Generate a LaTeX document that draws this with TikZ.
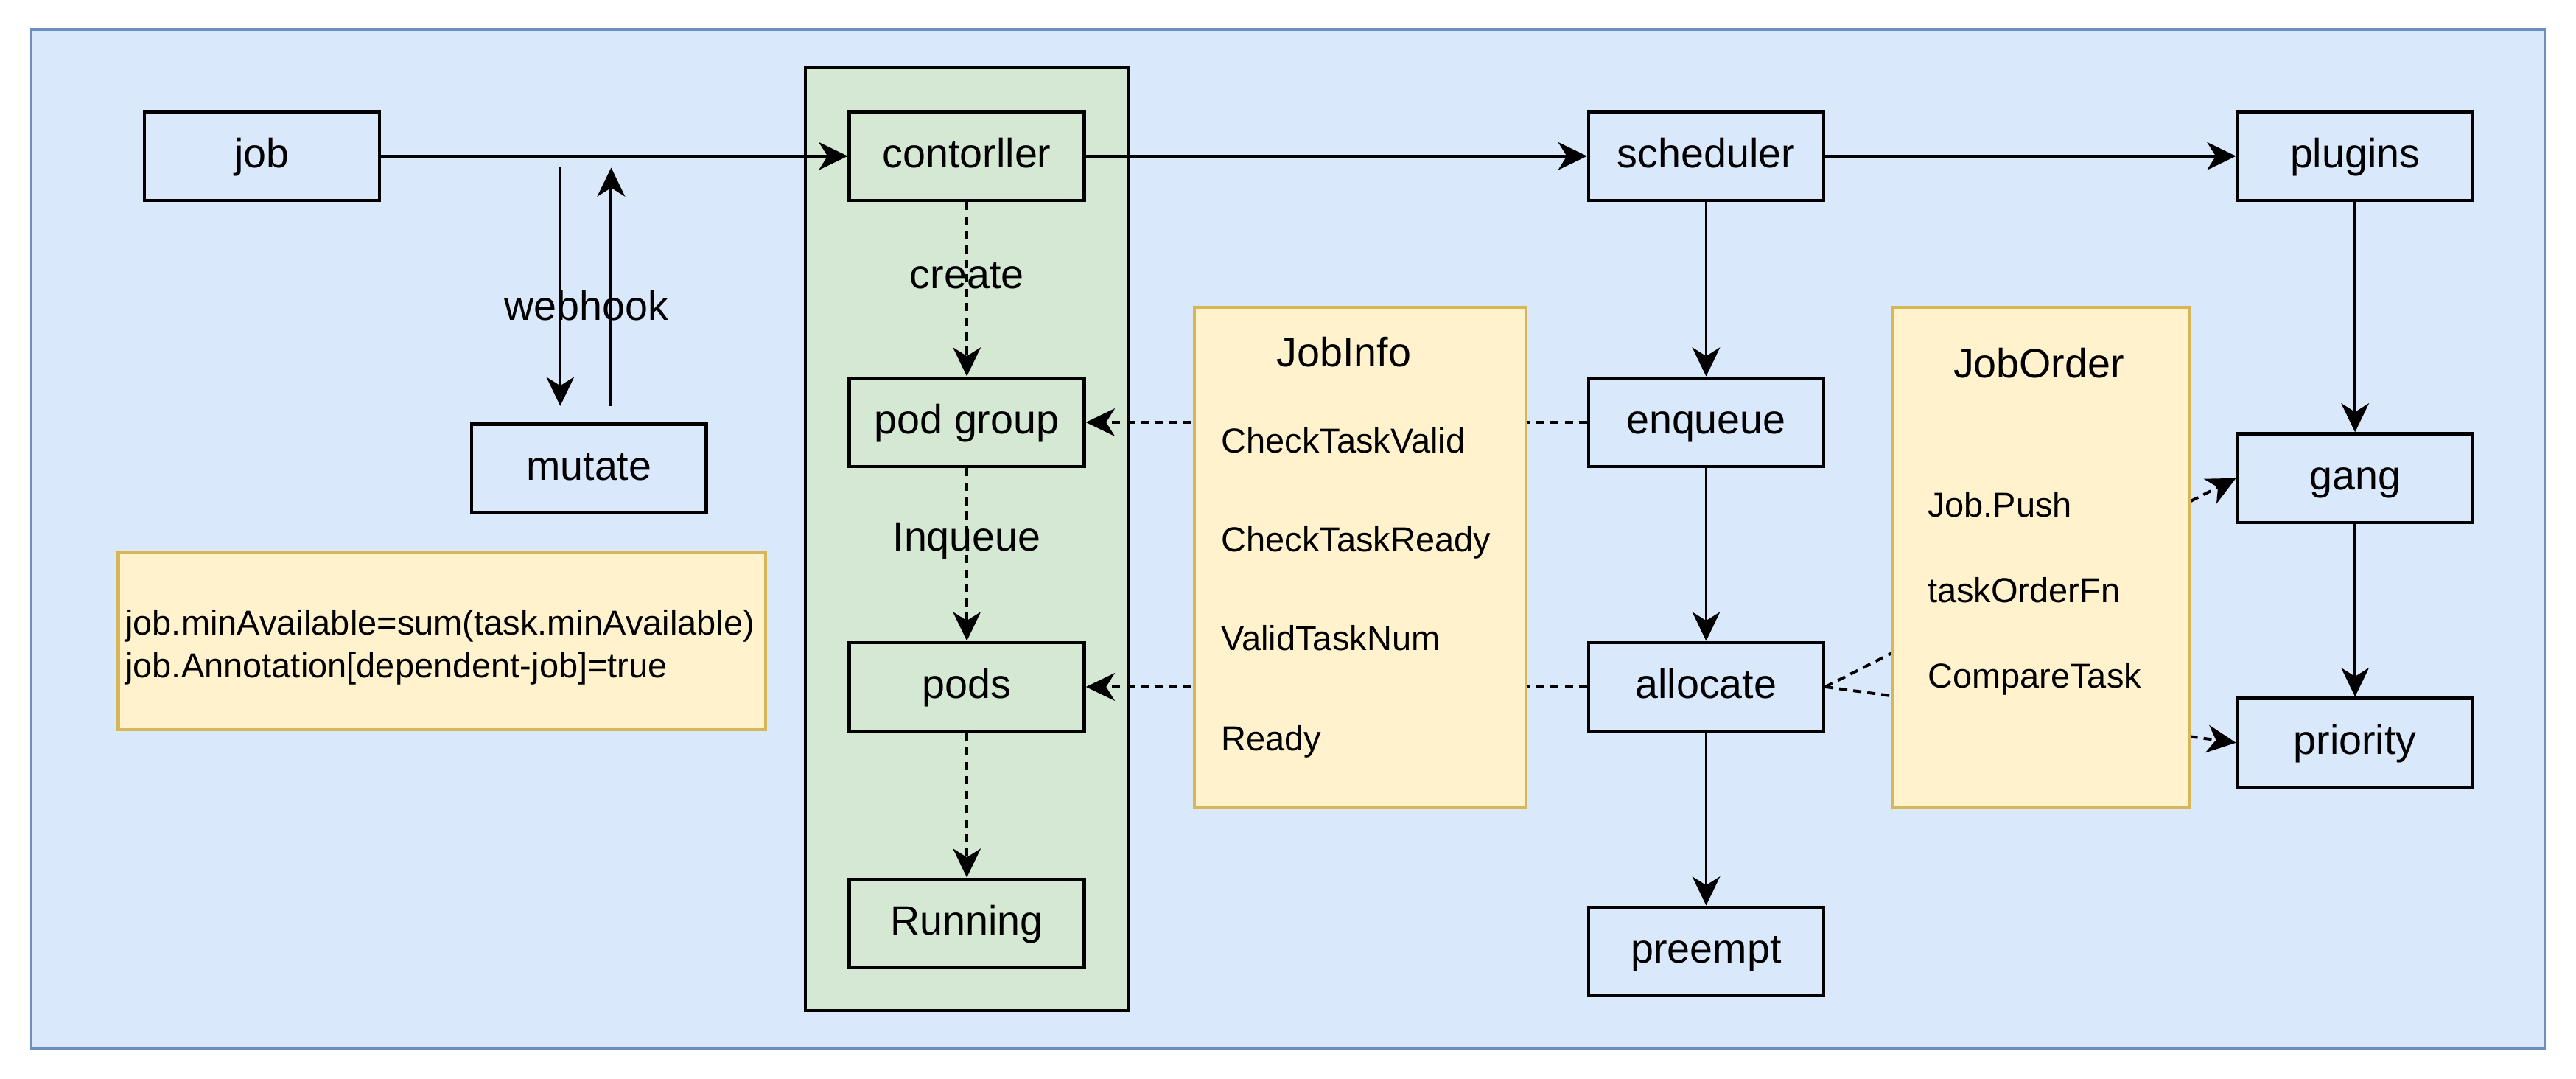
\documentclass[tikz,border=0pt]{standalone}
\usepackage{fontspec}
\setmainfont{Liberation Sans}
\usetikzlibrary{arrows.meta}
\definecolor{bgblue}{HTML}{DAE8FC}
\definecolor{bgblueline}{HTML}{6C8EBF}
\definecolor{cgreen}{HTML}{D5E8D4}
\definecolor{cyel}{HTML}{FFF2CC}
\definecolor{cyelline}{HTML}{D6B656}
\tikzset{
  bigfont/.style={font=\fontsize{14.2}{17}\selectfont},
  smallfont/.style={font=\fontsize{12}{15}\selectfont},
  box/.style={draw=black, line width=1.15pt, minimum width=2.86cm, minimum height=1.08cm,
    inner sep=0pt, bigfont, text height=1.0em, text depth=0.2em},
  container/.style={draw=black, fill=cgreen, line width=1pt, inner sep=0pt},
  note/.style={draw=cyelline, fill=cyel, line width=1.1pt, inner sep=0pt},
  arr/.style={line width=1pt, -{Stealth[length=10pt,width=9.6pt,inset=3pt]}},
  dsh/.style={dash pattern=on 2.8pt off 2.2pt},
  dotl/.style={dash pattern=on 2.8pt off 2.1pt},
  lbl/.style={bigfont, inner sep=0pt},
  item/.style={smallfont, inner sep=0pt, anchor=west, text height=0.95em, text depth=0.2em},
}
\begin{document}
\begin{tikzpicture}[x=0.02cm,y=-0.02cm]
\useasboundingbox (0,0) rectangle (1568,656.6);
\fill[white] (0,0) rectangle (1568,656.6);
\draw[fill=bgblue, draw=bgblueline, line width=0.9pt] (19,18) rectangle (1549,638);

% green container
\node[container, minimum width=3.94cm, minimum height=11.48cm] (ctr) at (588.5,328) {};

% boxes
\node[box] (job) at (159.5,95) {job};
\node[box] (ctl) at (588.5,95) {contorller};
\node[box] (sch) at (1038.5,95) {scheduler};
\node[box] (plg) at (1433.5,95) {plugins};
\node[box] (mut) at (358.5,285) {mutate};
\node[box] (pg) at (588.5,257) {pod group};
\node[box] (pods) at (588.5,418) {pods};
\node[box] (run) at (588.5,562) {Running};
\node[box] (enq) at (1038.5,257) {enqueue};
\node[box] (alc) at (1038.5,418) {allocate};
\node[box] (pre) at (1038.5,579) {preempt};
\node[box] (gang) at (1433.5,291) {gang};
\node[box] (pri) at (1433.5,452) {priority};

% solid connectors
\draw[arr] (job) -- (ctl);
\draw[arr] (ctl) -- (sch);
\draw[arr] (sch) -- (plg);
\draw[arr] (sch) -- (enq);
\draw[arr] (enq) -- (alc);
\draw[arr] (alc) -- (pre);
\draw[arr] (plg) -- (gang);
\draw[arr] (gang) -- (pri);

% webhook
\coordinate (w1s) at (341,102);
\coordinate (w1e) at (341,247);
\coordinate (w2s) at (372,247);
\coordinate (w2e) at (372,102);
\draw[arr] (w1s) -- (w1e);
\draw[arr] (w2s) -- (w2e);
\node[lbl] (wh) at (357,186) {webhook};

% dashed in container
\draw[arr,dsh] (ctl) -- node[lbl, pos=0.42] (lcreate) {create} (pg);
\draw[arr,dsh] (pg) -- node[lbl, pos=0.42] (linq) {Inqueue} (pods);
\draw[arr,dsh] (pods) -- (run);

% dotted connectors behind notes
\draw[arr,dotl] (enq.west) -- (pg.east);
\draw[arr,dotl] (alc.west) -- (pods.east);
\draw[arr,dotl] (alc.east) -- (gang.west);
\draw[arr,dotl] (alc.east) -- (pri.west);

% notes
\node[note, minimum width=7.88cm, minimum height=2.16cm] (lnote) at (269,390) {};
\node[item] (ln1) at (76,380) {job.minAvailable=sum(task.minAvailable)};
\node[item] (ln2) at (76,406) {job.Annotation[dependent-job]=true};

\node[note, minimum width=4.04cm, minimum height=6.08cm] (ji) at (828,339) {};
\node[lbl] (jit) at (818,214) {JobInfo};
\node[item] (ji1) at (743,269) {CheckTaskValid};
\node[item] (ji2) at (743,329) {CheckTaskReady};
\node[item] (ji3) at (743,389) {ValidTaskNum};
\node[item] (ji4) at (743,450) {Ready};

\node[note, minimum width=3.62cm, minimum height=6.08cm] (jo) at (1242.5,339) {};
\node[lbl] (jot) at (1241,221) {JobOrder};
\node[item] (jo1) at (1173,308) {Job.Push};
\node[item] (jo2) at (1173,360) {taskOrderFn};
\node[item] (jo3) at (1173,412) {CompareTask};
\end{tikzpicture}
\end{document}
